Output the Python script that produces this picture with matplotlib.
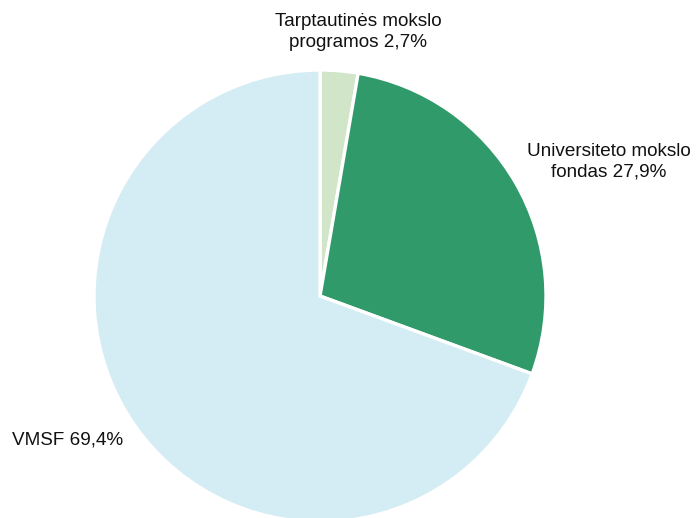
import matplotlib.pyplot as plt

labels = ["Tarptautinės mokslo\nprogramos 2,7%", "Universiteto mokslo\nfondas 27,9%", "VMSF 69,4%"]
shares = [2.7, 27.9, 69.4]
colors = ["#d1e5c8", "#319a6a", "#d4ecf3"]

plt.rcParams["font.family"] = ["Liberation Sans", "DejaVu Sans"]

fig = plt.figure(figsize=(6.96, 5.18), dpi=100)
ax = fig.add_axes([(320 - 226) / 696, (518 - 296 - 226) / 518, 452 / 696, 452 / 518])

ax.pie(
    shares,
    colors=colors,
    startangle=90,
    counterclock=False,
    wedgeprops=dict(edgecolor="white", linewidth=2.4),
)

# label positions in pie units
label_pos = [(0.168, 1.168), (1.279, 0.593), (-1.115, -0.637)]
for text, (x, y) in zip(labels, label_pos):
    ax.text(x, y, text, ha="center", va="center", fontsize=13.6, color="#111111",
            linespacing=1.25)

ax.set_xlim(-1, 1)
ax.set_ylim(-1, 1)
ax.set_aspect("equal")
ax.axis("off")

fig.savefig("out.png", dpi=100)
